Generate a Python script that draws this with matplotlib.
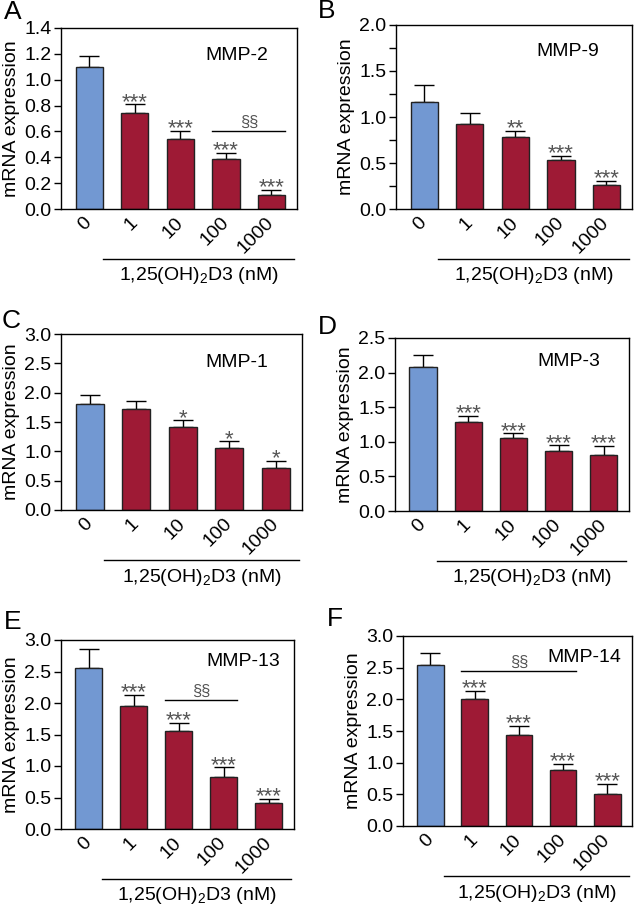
import matplotlib
matplotlib.use("Agg")
import matplotlib.pyplot as plt
import numpy as np

plt.rcParams['font.family'] = ['Liberation Sans', 'DejaVu Sans']
plt.rcParams['mathtext.fontset'] = 'custom'
plt.rcParams['mathtext.rm'] = 'Liberation Sans'
plt.rcParams['mathtext.it'] = 'Liberation Sans'

# data
doses = ["0", "1", "10", "100", "1000"]

mmp2_mean = [1.10, 0.74, 0.54, 0.385, 0.11]
mmp2_err = [0.08, 0.07, 0.065, 0.05, 0.04]
mmp2_sig = ["", "***", "***", "***", "***"]

mmp9_mean = [1.16, 0.92, 0.78, 0.53, 0.26]
mmp9_err = [0.19, 0.12, 0.07, 0.045, 0.045]
mmp9_sig = ["", "", "**", "***", "***"]

mmp1_mean = [1.80, 1.73, 1.41, 1.05, 0.72]
mmp1_err = [0.16, 0.12, 0.12, 0.12, 0.12]
mmp1_sig = ["", "", "*", "*", "*"]

mmp3_mean = [2.08, 1.28, 1.05, 0.87, 0.81]
mmp3_err = [0.18, 0.10, 0.07, 0.08, 0.13]
mmp3_sig = ["", "***", "***", "***", "***"]

mmp13_mean = [2.55, 1.96, 1.56, 0.82, 0.42]
mmp13_err = [0.31, 0.17, 0.13, 0.16, 0.06]
mmp13_sig = ["", "***", "***", "***", "***"]

mmp14_mean = [2.55, 2.00, 1.44, 0.885, 0.50]
mmp14_err = [0.18, 0.13, 0.14, 0.10, 0.17]
mmp14_sig = ["", "***", "***", "***", "***"]

W, H = 637, 908
BLUE = "#7298d2"
RED = "#9e1a35"
GRAY = "#555555"
BAR_W = 0.6
FS = 14


def make_axes(fig, l, t, r, b):
    # pixel box -> figure fraction
    return fig.add_axes([l / W, 1 - b / H, (r - l) / W, (b - t) / H])


def draw_panel(fig, box, letter, letter_xy, name, name_xy, mean, err, sig,
               ymax, ystep, minor=None, bracket=None):
    l, t, r, b = box
    ax = make_axes(fig, l, t, r, b)
    x = np.arange(len(doses))
    colors = [BLUE] + [RED] * (len(doses) - 1)
    ax.bar(x, mean, width=BAR_W, color=colors, edgecolor="#222222", linewidth=1.0, zorder=2)
    ax.errorbar(x, mean, yerr=[np.zeros(len(mean)), err], fmt="none", ecolor="black",
                elinewidth=1.0, capsize=7, capthick=1.0, zorder=1)
    for i in range(len(doses)):
        if sig[i]:
            ax.annotate(sig[i], (x[i], mean[i] + err[i]), xytext=(0, -2.5),
                        textcoords="offset points", ha="center", va="baseline",
                        fontsize=16, color=GRAY)
    if bracket is not None:
        i0, i1, yb = bracket
        x0 = i0 - BAR_W / 2
        x1 = i1 + BAR_W / 2
        ax.plot([x0, x1], [yb, yb], color="black", lw=1.0)
        ax.annotate("\u00a7\u00a7", ((x0 + x1) / 2, yb), xytext=(0, 1),
                    textcoords="offset points", ha="center", va="bottom",
                    fontsize=12, color=GRAY)
    ax.set_xlim(-0.62, 4.56)
    ax.set_ylim(0, ymax)
    ax.set_yticks(np.arange(0, ymax + 1e-9, ystep))
    ax.set_yticklabels(["%.1f" % v for v in np.arange(0, ymax + 1e-9, ystep)], fontsize=FS)
    if minor is not None:
        ax.set_yticks(np.arange(0, ymax + 1e-9, minor), minor=True)
        ax.tick_params(axis="y", which="minor", length=5, width=1.0)
    ax.tick_params(axis="y", which="major", length=5, width=1.0, pad=2)
    ax.set_xticks(x)
    ax.set_xticklabels(doses, rotation=45, ha="right", va="center",
                       rotation_mode="anchor", fontsize=FS)
    ax.tick_params(axis="x", length=0, pad=8)
    for s in ax.spines.values():
        s.set_linewidth(1.0)
    ax.set_ylabel("mRNA expression", fontsize=FS, labelpad=3)
    # dose line and label under the axis
    axh = b - t
    axw = r - l
    line_y = -50 / axh
    ax.plot([0.3, 4.5], [line_y, line_y], color="black", lw=1.0,
            transform=ax.get_xaxis_transform(), clip_on=False)
    ax.text((0.3 + 4.5) / 2, -67 / axh, "1,25(OH)$_2$D3 (nM)", fontsize=FS,
            ha="center", va="center", transform=ax.get_xaxis_transform())
    ax.text((name_xy[0] - l) / axw, (b - name_xy[1]) / axh, name, fontsize=FS,
            ha="center", va="center", transform=ax.transAxes)
    fig.text(letter_xy[0] / W, 1 - letter_xy[1] / H, letter, fontsize=19,
             ha="center", va="center")
    return ax


fig = plt.figure(figsize=(W / 100, H / 100), dpi=100)

draw_panel(fig, (61, 28, 297, 209), "A", (13, 12), "MMP-2", (237, 55),
           mmp2_mean, mmp2_err, mmp2_sig, 1.4, 0.2, bracket=(3, 4, 0.6))
draw_panel(fig, (396, 25, 632, 209), "B", (327, 11), "MMP-9", (568, 52),
           mmp9_mean, mmp9_err, mmp9_sig, 2.0, 0.5, minor=0.25)
draw_panel(fig, (61, 334, 302, 510), "C", (11, 321), "MMP-1", (237, 362),
           mmp1_mean, mmp1_err, mmp1_sig, 3.0, 0.5)
draw_panel(fig, (395, 338, 629, 511), "D", (327, 327), "MMP-3", (569, 362),
           mmp3_mean, mmp3_err, mmp3_sig, 2.5, 0.5)
draw_panel(fig, (61, 640, 294, 829), "E", (13, 622), "MMP-13", (243, 662),
           mmp13_mean, mmp13_err, mmp13_sig, 3.0, 0.5, bracket=(2, 3, 2.05))
draw_panel(fig, (403, 636, 632, 826), "F", (335, 619), "MMP-14", (584, 657),
           mmp14_mean, mmp14_err, mmp14_sig, 3.0, 0.5, bracket=(1, 3, 2.45))

fig.savefig("out.png", dpi=100)
